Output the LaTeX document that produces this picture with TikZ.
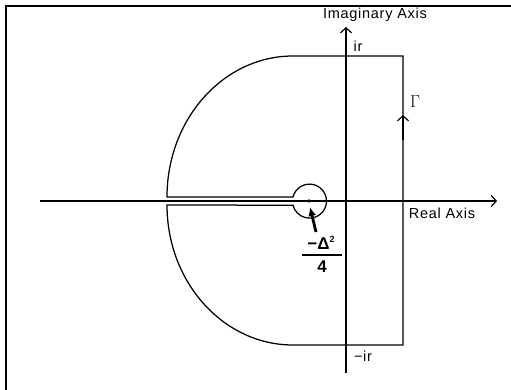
\documentclass[tikz,border=0pt]{standalone}
\usepackage{fontspec}
\setmainfont{Liberation Sans}
\usetikzlibrary{arrows.meta}
\begin{document}
\begin{tikzpicture}[x=1pt,y=-1pt,
  curve/.style={line width=1.25pt},
  axis/.style={line width=1.25pt,-{Straight Barb[length=5pt,width=11pt,line width=1.2pt]}},
  lbl/.style={inner sep=0pt,font=\fontsize{14.5}{16}\selectfont\addfontfeatures{LetterSpace=5}},
  pointer/.style={line width=2.8pt,-{Latex[length=9pt,width=8pt]}}]
\useasboundingbox (0,0) rectangle (511,390);
% frame (top and left only)
\draw[line width=1.4pt] (511,6) -- (6,6) -- (6,390);
% coordinates
\coordinate (O) at (346,201);
\coordinate (P) at (309,201);
\coordinate (RA) at (40,201);
\coordinate (RB) at (497,201);
\coordinate (IA) at (346,373);
\coordinate (IB) at (346,27);
\coordinate (TR) at (403,56);
\coordinate (BR) at (403,345);
\coordinate (TL) at (293,56);
\coordinate (BL) at (293,345);
% axes
\draw[axis] (RA) -- (RB);
\draw[axis] (IA) -- (IB);
% contour
\draw[curve] (BL) -- (BR) -- (TR) -- (TL)
  arc[start angle=90,end angle=180,x radius=126,y radius=-141]
  -- (293,197)
  arc[start angle=-166,end angle=166,radius=17]
  -- (167,205)
  arc[start angle=180,end angle=270,x radius=126,y radius=-140];
% direction arrow on Gamma
\draw[curve,-{Straight Barb[length=5pt,width=11pt,line width=1.2pt]}] (403,140) -- (403,115);
% point
\fill (P) circle[radius=1.8];
\draw[pointer] (316,232) -- (310,207);
% labels
\node[lbl] (im) at (375,15) {Imaginary Axis};
\node[lbl] (re) at (442,213) {Real Axis};
\node[lbl] (ir) at (358,46) {ir};
\node[lbl] (mir) at (363,356) {−ir};
\node[inner sep=0pt,font=\fontsize{18}{20}\selectfont] (gam) at (415,102) {$\Gamma$};
\node[inner sep=0pt,font=\fontsize{17}{19}\selectfont\bfseries] (num) at (321,243) {−Δ\raisebox{0.7ex}{\fontsize{9}{10}\selectfont 2}};
\draw[line width=1.3pt] (302,255) -- (342,255);
\node[inner sep=0pt,font=\fontsize{17}{19}\selectfont\bfseries] (den) at (322,267) {4};
\end{tikzpicture}
\end{document}
